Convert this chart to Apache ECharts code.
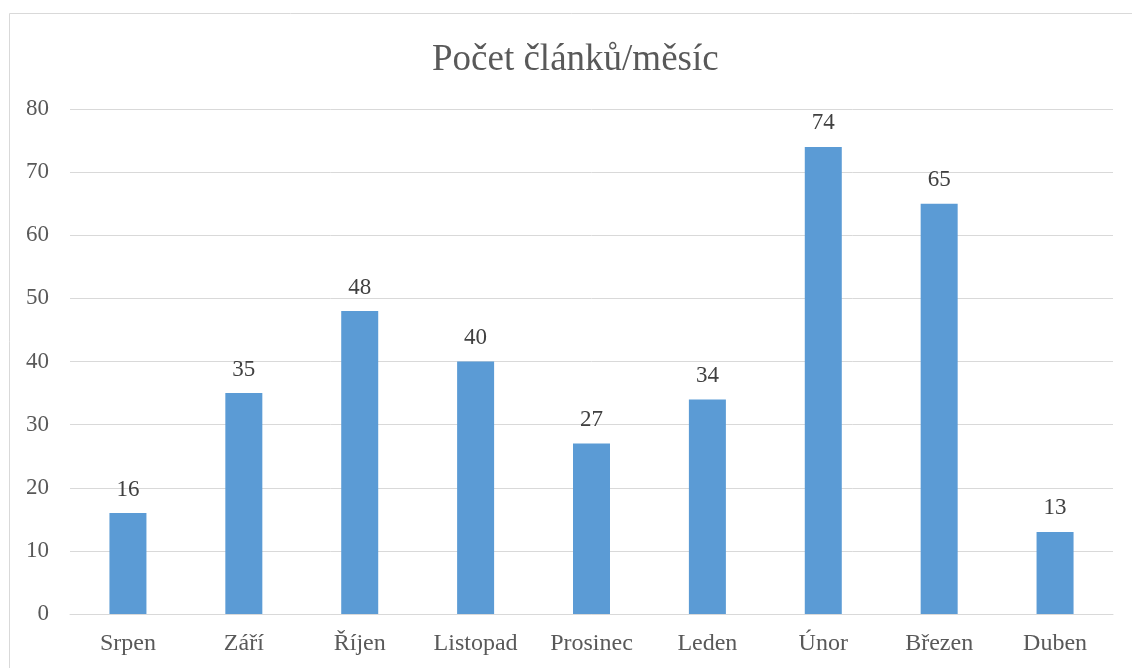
<!DOCTYPE html>
<html>
<head>
<meta charset="utf-8">
<script src="https://cdn.jsdelivr.net/npm/echarts@6/dist/echarts.min.js"></script>
<style>
  body { margin: 0; background: #fff; }
  #main { width: 1132px; height: 668px; }
</style>
</head>
<body>
<div id="main"></div>
<script>
var months = ['Srpen', 'Září', 'Říjen', 'Listopad', 'Prosinec', 'Leden', 'Únor', 'Březen', 'Duben'];
var articles = [16, 35, 48, 40, 27, 34, 74, 65, 13];

var chart = echarts.init(document.getElementById('main'));
var font = '"Liberation Serif", "Times New Roman", serif';

var option = {
  animation: false,
  textStyle: { fontFamily: font },
  title: {
    text: 'Počet článků/měsíc',
    left: 427,
    top: 37,
    textStyle: { fontFamily: font, fontSize: 37, fontWeight: 'normal', color: '#595959' }
  },
  graphic: [
    {
      type: 'rect',
      shape: { x: 9.5, y: 13.5, width: 1200, height: 700 },
      style: { fill: 'none', stroke: '#d9d9d9', lineWidth: 1 },
      silent: true
    }
  ],
  grid: { left: 70, right: 19, top: 109, bottom: 54 },
  xAxis: {
    type: 'category',
    data: months,
    axisLine: { lineStyle: { color: '#d9d9d9' } },
    axisTick: { show: false },
    axisLabel: { fontFamily: font, fontSize: 24, color: '#595959', margin: 18 }
  },
  yAxis: {
    type: 'value',
    min: 0,
    max: 80,
    interval: 10,
    axisLine: { show: false },
    axisTick: { show: false },
    splitLine: { lineStyle: { color: '#d9d9d9' } },
    axisLabel: { fontFamily: font, fontSize: 23, color: '#595959', margin: 21 }
  },
  series: [
    {
      type: 'bar',
      data: articles,
      barWidth: 37,
      itemStyle: { color: '#5b9bd5' },
      label: {
        show: true,
        position: 'top',
        distance: 12,
        fontFamily: font,
        fontSize: 23,
        color: '#404040'
      }
    }
  ]
};

chart.setOption(option);
</script>
</body>
</html>
